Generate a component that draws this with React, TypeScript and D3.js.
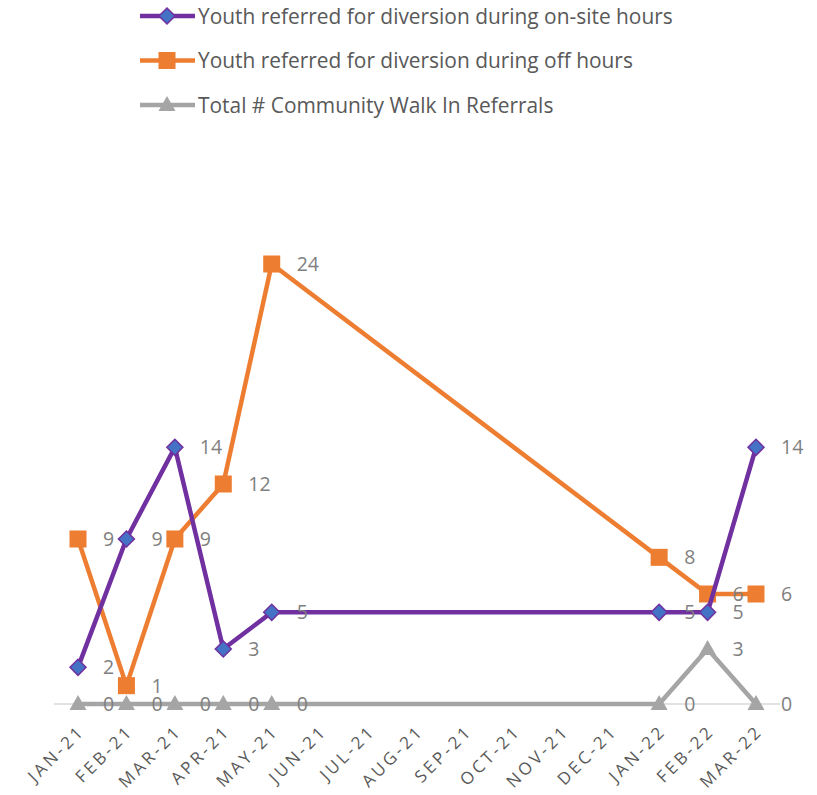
import React from "react";
import * as d3 from "d3";

const months = ["JAN-21","FEB-21","MAR-21","APR-21","MAY-21","JUN-21","JUL-21","AUG-21","SEP-21","OCT-21","NOV-21","DEC-21","JAN-22","FEB-22","MAR-22"];
const onSite: (number | null)[] = [2, 9, 14, 3, 5, null, null, null, null, null, null, null, 5, 5, 14];
const offHours: (number | null)[] = [9, 1, 9, 12, 24, null, null, null, null, null, null, null, 8, 6, 6];
const walkIn: (number | null)[] = [0, 0, 0, 0, 0, null, null, null, null, null, null, null, 0, 3, 0];

const seriesNames = [
  "Youth referred for diversion during on-site hours",
  "Youth referred for diversion during off hours",
  "Total # Community Walk In Referrals",
];

const PURPLE = "#7030A0";
const BLUE = "#4472C4";
const ORANGE = "#ED7D31";
const GRAY = "#A5A5A5";
const FONT = "'Open Sans', Lato, sans-serif";

type Pt = { m: string; v: number };

function pts(vals: (number | null)[]): Pt[] {
  return months.map((m, i) => ({ m, v: vals[i] as number })).filter((d) => d.v !== null && d.v !== undefined);
}

function Marker({ kind, x, y }: { kind: string; x: number; y: number }) {
  if (kind === "diamond") {
    const r = 8;
    return <path d={`M${x},${y - r}L${x + r},${y}L${x},${y + r}L${x - r},${y}Z`} fill={BLUE} stroke={PURPLE} strokeWidth={1.5} />;
  }
  if (kind === "square") {
    const s = 17;
    return <rect x={x - s / 2} y={y - s / 2} width={s} height={s} fill={ORANGE} />;
  }
  const w = 17, h = 15;
  return <path d={`M${x},${y - h * 0.6}L${x + w / 2},${y + h * 0.4}L${x - w / 2},${y + h * 0.4}Z`} fill={GRAY} />;
}

export default function App() {
  const W = 817, H = 795;
  const x = d3.scalePoint<string>().domain(months).range([78, 756]);
  const y = d3.scaleLinear().domain([0, 24]).range([704, 264]);
  const line = d3.line<Pt>().x((d) => x(d.m)!).y((d) => y(d.v));

  const series = [
    { name: seriesNames[0], data: pts(onSite), color: PURPLE, kind: "diamond" },
    { name: seriesNames[1], data: pts(offHours), color: ORANGE, kind: "square" },
    { name: seriesNames[2], data: pts(walkIn), color: GRAY, kind: "triangle" },
  ];
  const drawOrder = [2, 1, 0];

  return (
    <svg width={W} height={H} style={{ position: "absolute", left: 0, top: 0 }} fontFamily={FONT}>
      <rect width={W} height={H} fill="#fff" />
      {/* legend */}
      {series.map((s, i) => {
        const ly = 16 + i * 44.5;
        return (
          <g key={s.name}>
            <line x1={140} x2={195} y1={ly} y2={ly} stroke={s.color} strokeWidth={4.5} />
            <Marker kind={s.kind} x={167} y={ly} />
            <text x={198} y={ly} dy="0.36em" fontSize={20.9} fill="#595959">{s.name}</text>
          </g>
        );
      })}
      {/* axis */}
      <line x1={54} x2={780} y1={y(0)} y2={y(0)} stroke="#D9D9D9" strokeWidth={1.5} />
      {months.map((m) => (
        <text key={m} transform={`translate(${x(m)! + 8},${732}) rotate(-45)`} textAnchor="end" fontSize={17} letterSpacing={3.2} fill="#595959">{m}</text>
      ))}
      {/* series */}
      {drawOrder.map((i) => {
        const s = series[i];
        return (
          <g key={s.name}>
            <path d={line(s.data)!} fill="none" stroke={s.color} strokeWidth={4.5} strokeLinejoin="round" />
            {s.data.map((d) => (
              <Marker key={d.m} kind={s.kind} x={x(d.m)!} y={y(d.v)} />
            ))}
          </g>
        );
      })}
      {drawOrder.map((i) => {
        const s = series[i];
        return (
          <g key={s.name + "lbl"}>
            {s.data.map((d) => (
              <text key={d.m} x={x(d.m)! + 25} y={y(d.v)} dy="0.36em" fontSize={19.5} fill="#7F7F7F">{d.v}</text>
            ))}
          </g>
        );
      })}
    </svg>
  );
}
